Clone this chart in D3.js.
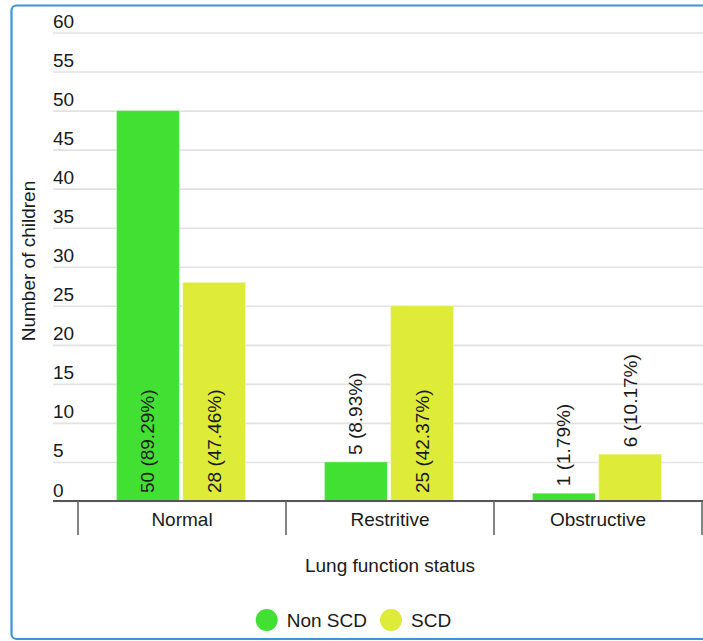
<!DOCTYPE html>
<html>
<head>
<meta charset="utf-8">
<script src="https://cdn.jsdelivr.net/npm/d3@7"></script>
<style>
  html, body { margin: 0; padding: 0; background: #fff; }
  svg { display: block; font-family: "Liberation Sans", Arial, sans-serif; }
</style>
</head>
<body>
<svg id="chart" width="703" height="641"></svg>
<script>
const categories = ["Normal", "Restritive", "Obstructive"];
const seriesNames = ["Non SCD", "SCD"];
const nonScdValues = [50, 5, 1];
const scdValues = [28, 25, 6];
const nonScdLabels = ["50 (89.29%)", "5 (8.93%)", "1 (1.79%)"];
const scdLabels = ["28 (47.46%)", "25 (42.37%)", "6 (10.17%)"];
const yTicks = [0, 5, 10, 15, 20, 25, 30, 35, 40, 45, 50, 55, 60];
const seriesColors = ["#42e032", "#dfeb39"];
const yTitle = "Number of children";
const xTitle = "Lung function status";

const svg = d3.select("#chart");
const FS = "19px";
const textColor = "#1a1a1a";

// frame
svg.append("rect")
  .attr("x", 11.5).attr("y", 5.5)
  .attr("width", 730).attr("height", 633.5)
  .attr("rx", 5)
  .attr("fill", "#fff")
  .attr("stroke", "#3a96d6")
  .attr("stroke-width", 2.2);

const y = d3.scaleLinear().domain([0, 60]).range([501, 32.5]);
const x0 = d3.scaleBand().domain(categories).range([78, 702]).paddingInner(0).paddingOuter(0);
const x1 = d3.scaleBand().domain(seriesNames).range([38.5, 167.5]).paddingInner(0.05);
const color = d3.scaleOrdinal().domain(seriesNames).range(seriesColors);

// y axis with gridlines
const gy = svg.append("g").attr("transform", "translate(53,0)")
  .call(d3.axisRight(y).tickValues(yTicks).tickSize(650).tickFormat(d3.format("d")));
gy.select(".domain").remove();
gy.selectAll(".tick line").attr("stroke", "#e2e2e2").attr("stroke-width", 1.6);
gy.selectAll(".tick text")
  .attr("x", 0).attr("dy", null).attr("y", -5)
  .attr("text-anchor", "start")
  .attr("font-size", FS)
  .attr("font-family", "Liberation Sans, Arial, sans-serif")
  .attr("fill", textColor);

// data rows
const rows = categories.map((c, i) => ({
  cat: c,
  vals: [
    {s: seriesNames[0], v: nonScdValues[i], label: nonScdLabels[i]},
    {s: seriesNames[1], v: scdValues[i], label: scdLabels[i]}
  ]
}));

const groups = svg.append("g").selectAll("g").data(rows).join("g")
  .attr("transform", d => `translate(${x0(d.cat)},0)`);

groups.selectAll("rect").data(d => d.vals).join("rect")
  .attr("x", d => x1(d.s))
  .attr("y", d => y(d.v))
  .attr("width", x1.bandwidth())
  .attr("height", d => y(0) - y(d.v))
  .attr("fill", d => color(d.s))
  .attr("stroke", "#ffffff")
  .attr("stroke-opacity", 0.35)
  .attr("stroke-width", 1);

// labels
groups.selectAll("text.lbl").data(d => d.vals).join("text")
  .attr("class", "lbl")
  .attr("font-size", FS)
  .attr("fill", textColor)
  .attr("text-anchor", "start")
  .attr("dominant-baseline", "central")
  .text(d => d.label)
  .each(function(d) {
    const len = this.getComputedTextLength();
    const h = y(0) - y(d.v);
    const cx = x1(d.s) + x1.bandwidth() / 2;
    let startY;
    if (h > len + 16) startY = y(0) - 8;
    else startY = y(d.v) - 7;
    d3.select(this).attr("transform", `translate(${cx},${startY}) rotate(-90)`);
  });

// x axis labels
const gx = svg.append("g").attr("transform", "translate(0,501)")
  .call(d3.axisBottom(x0).tickSize(0).tickPadding(0));
gx.select(".domain").remove();
gx.selectAll(".tick text")
  .attr("y", 25).attr("dy", null)
  .attr("font-size", FS)
  .attr("font-family", "Liberation Sans, Arial, sans-serif")
  .attr("fill", textColor);

svg.append("line")
  .attr("x1", 53).attr("x2", 703)
  .attr("y1", 501).attr("y2", 501)
  .attr("stroke", "#555").attr("stroke-width", 2);

// category separators
const edges = categories.map(c => x0(c)).concat([x0.range()[1]]);
svg.append("g").selectAll("line").data(edges).join("line")
  .attr("x1", d => d).attr("x2", d => d)
  .attr("y1", 501).attr("y2", 535)
  .attr("stroke", "#666").attr("stroke-width", 1.6);

// axis titles
svg.append("text")
  .attr("x", 390).attr("y", 572)
  .attr("text-anchor", "middle")
  .attr("font-size", FS).attr("fill", textColor)
  .text(xTitle);

svg.append("text")
  .attr("transform", "translate(28,261) rotate(-90)")
  .attr("text-anchor", "middle")
  .attr("dominant-baseline", "central")
  .attr("font-size", FS).attr("fill", textColor)
  .text(yTitle);

// legend
const legendX = [266.7, 391];
const lg = svg.append("g").selectAll("g").data(seriesNames).join("g")
  .attr("transform", (d, i) => `translate(${legendX[i]},620)`);
lg.append("circle").attr("r", 11).attr("fill", d => color(d));
lg.append("text")
  .attr("x", 20).attr("y", 6.7)
  .attr("font-size", FS).attr("fill", textColor)
  .text(d => d);
</script>
</body>
</html>
